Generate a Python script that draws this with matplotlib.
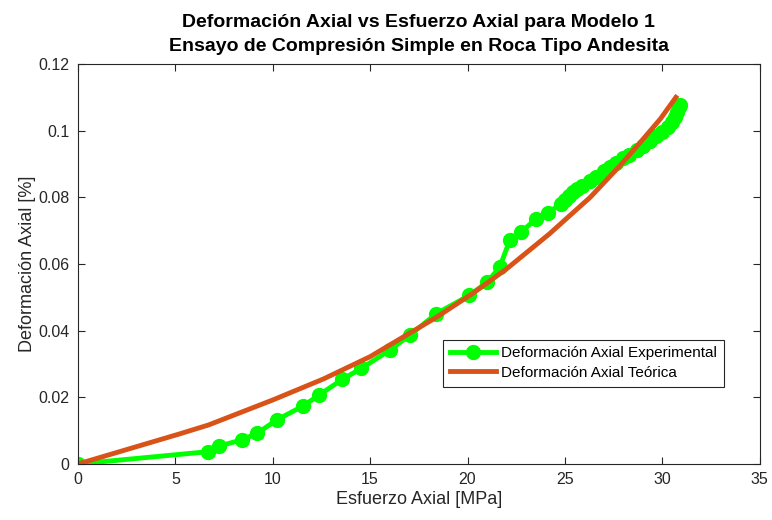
import matplotlib
matplotlib.use('Agg')
import matplotlib.pyplot as plt

plt.rcParams['font.family'] = ['Liberation Sans', 'DejaVu Sans']

# Experimental stress [MPa] and axial strain [%]
esfuerzo_exp = [0, 6.69, 7.25, 8.4, 9.2, 10.2, 11.56, 12.38, 13.58, 14.55, 16.0,
                17.03, 18.4, 20.1, 21.0, 21.65, 22.17, 22.76, 23.53, 24.13, 24.8,
                25.0, 25.2, 25.4, 25.6, 25.9, 26.3, 26.6, 27.0, 27.3, 27.65, 28.0,
                28.3, 28.7, 29.0, 29.35, 29.7, 30.0, 30.3, 30.5, 30.65, 30.75,
                30.85, 30.9]
deform_exp = [0, 0.0037, 0.0054, 0.0072, 0.0092, 0.0132, 0.0174, 0.0207, 0.0254,
              0.0287, 0.0341, 0.0386, 0.0451, 0.0506, 0.0545, 0.0590, 0.0671,
              0.0696, 0.0736, 0.0753, 0.0781, 0.0792, 0.0805, 0.0815, 0.0826,
              0.0835, 0.0850, 0.0862, 0.0878, 0.0890, 0.0903, 0.0918, 0.0928,
              0.0942, 0.0953, 0.0968, 0.0983, 0.0997, 0.1012, 0.1025, 0.1040,
              0.1055, 0.1070, 0.1078]

# Theoretical curve
esfuerzo_teo = [0, 5.2, 6.7, 10.0, 12.6, 15.0, 18.4, 20.3, 22.0, 24.2, 26.3,
                27.8, 28.8, 29.9, 30.7]
deform_teo = [0, 0.0090, 0.0117, 0.0192, 0.0255, 0.0322, 0.0440, 0.0513, 0.0585,
              0.0690, 0.0800, 0.0893, 0.0960, 0.1035, 0.1100]

x_ticks = [0, 5, 10, 15, 20, 25, 30, 35]
y_ticks = [0, 0.02, 0.04, 0.06, 0.08, 0.1, 0.12]
y_tick_labels = ['0', '0.02', '0.04', '0.06', '0.08', '0.1', '0.12']

fig = plt.figure(figsize=(7.72, 5.2), dpi=100)
ax = fig.add_axes([0.101, 0.1077, 0.883, 0.7693])

ax.plot(esfuerzo_exp, deform_exp, '-o', color=(0, 1, 0), linewidth=3.5,
        markersize=10, label='Deformación Axial Experimental')
ax.plot(esfuerzo_teo, deform_teo, '-', color='#D95319', linewidth=3.5,
        label='Deformación Axial Teórica')

ax.set_xlim(0, 35)
ax.set_ylim(0, 0.12)
ax.set_xticks(x_ticks)
ax.set_yticks(y_ticks)
ax.set_yticklabels(y_tick_labels)

dark = (0.15, 0.15, 0.15)
for s in ax.spines.values():
    s.set_color(dark)
    s.set_linewidth(0.8)
ax.tick_params(direction='in', length=5, width=0.8, colors=dark, labelsize=11.5,
               top=True, right=True, pad=6)

ax.set_xlabel('Esfuerzo Axial [MPa]', fontsize=13, color=dark, labelpad=3)
ax.set_ylabel('Deformación Axial [%]', fontsize=13, color=dark, labelpad=2)
ax.set_title('Deformación Axial vs Esfuerzo Axial para Modelo 1\n'
             'Ensayo de Compresión Simple en Roca Tipo Andesita',
             fontsize=14, fontweight='bold', linespacing=1.55, pad=9)

leg = ax.legend(loc='upper left', bbox_to_anchor=(0.525, 0.33), fontsize=11,
                frameon=True, fancybox=False, framealpha=1, numpoints=1,
                handlelength=3.0, borderpad=0.45, labelspacing=0.35,
                handletextpad=0.3)
leg.get_frame().set_edgecolor(dark)
leg.get_frame().set_linewidth(0.8)

fig.savefig('out.png', dpi=100)
